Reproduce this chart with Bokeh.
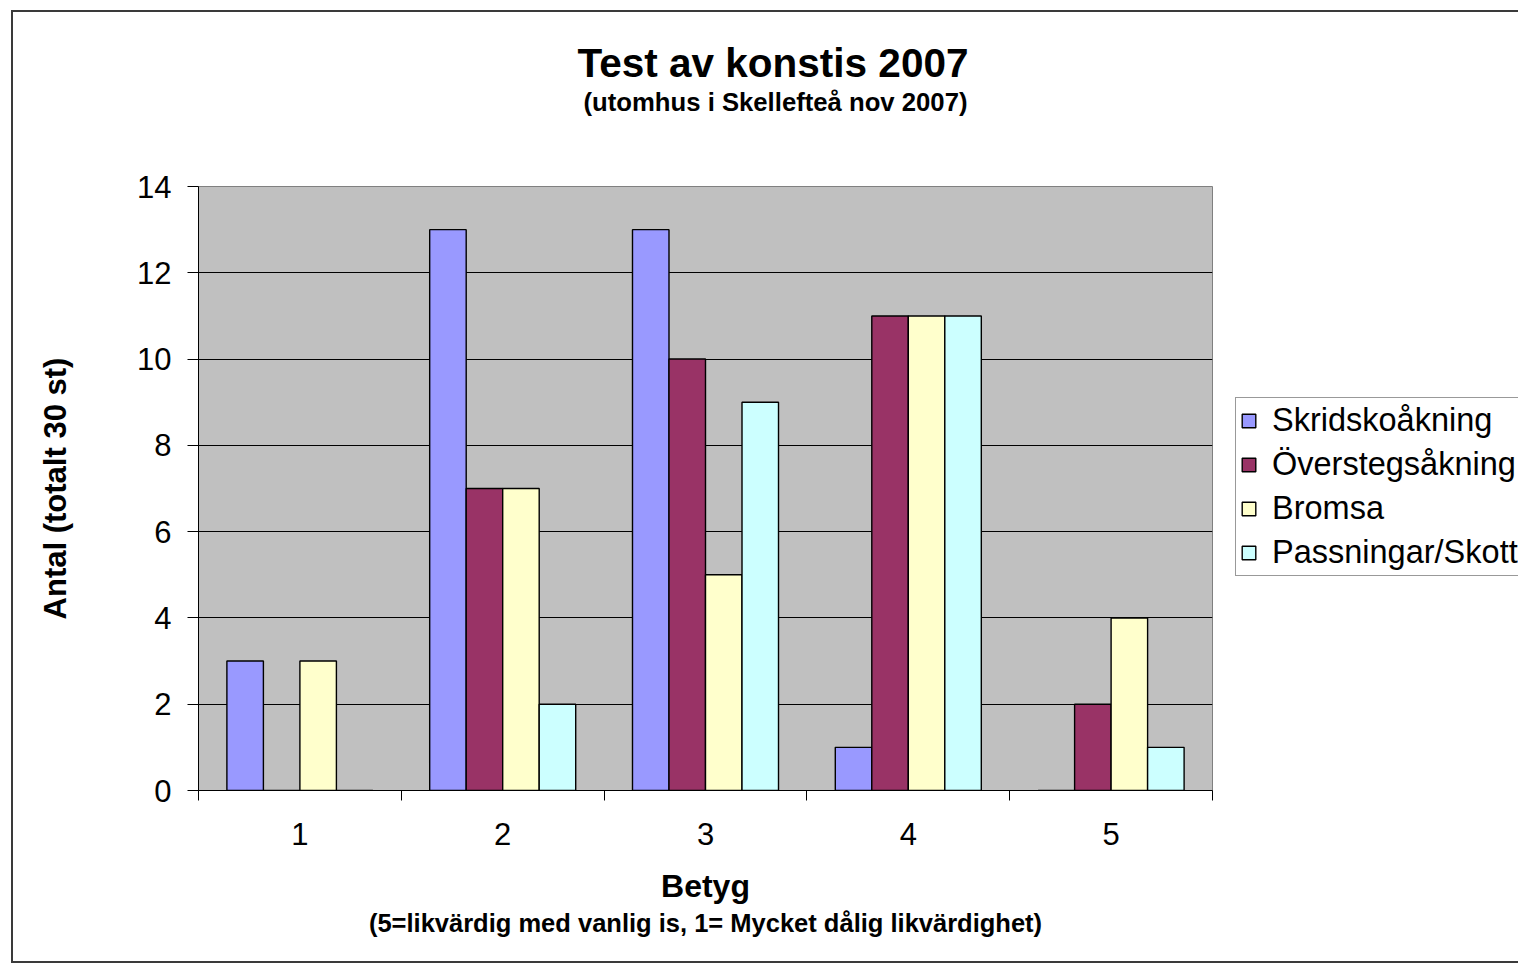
from bokeh.plotting import figure
from bokeh.layouts import row
from bokeh.models import Range1d, FixedTicker, Legend, LegendItem, ColumnDataSource, Title
from bokeh.embed import file_html
from bokeh.resources import INLINE

grades = [1, 2, 3, 4, 5]
grade_labels = ["1", "2", "3", "4", "5"]
skridsko = [3, 13, 13, 1, 0]
oversteg = [0, 7, 10, 11, 2]
bromsa = [3, 7, 5, 11, 4]
passningar = [0, 2, 9, 11, 1]
series_names = ["Skridskoåkning", "Överstegsåkning", "Bromsa", "Passningar/Skott"]
series_values = [skridsko, oversteg, bromsa, passningar]
series_colors = ["#9999FF", "#993366", "#FFFFCC", "#CCFFFF"]
y_ticks = [0, 2, 4, 6, 8, 10, 12, 14]

FONT = "Liberation Sans"

p = figure(width=1216, height=949, output_backend="svg", toolbar_location=None,
           x_range=Range1d(0.5, 5.5), y_range=Range1d(0, 14),
           min_border_left=185, min_border_right=17, min_border_top=174, min_border_bottom=171)
p.background_fill_color = "#C0C0C0"
p.border_fill_color = "white"
p.outline_line_color = "#808080"
p.outline_line_width = 1

bw = 0.18
offsets = [-1.5 * bw, -0.5 * bw, 0.5 * bw, 1.5 * bw]
sources = []
for name, vals, col, off in zip(series_names, series_values, series_colors, offsets):
    src = ColumnDataSource(dict(x=[g + off for g in grades], top=vals))
    sources.append(src)
    p.vbar(x="x", top="top", width=bw, bottom=0, source=src, fill_color=col,
           line_color="black", line_width=1.4)

# grid
p.xgrid.visible = False
p.ygrid.grid_line_color = "black"
p.ygrid.grid_line_width = 1
p.ygrid.ticker = FixedTicker(ticks=y_ticks)

# y axis
p.yaxis.ticker = FixedTicker(ticks=y_ticks)
p.yaxis.axis_line_color = "black"
p.yaxis.major_tick_line_color = "black"
p.yaxis.major_tick_out = 11
p.yaxis.major_tick_in = 0
p.yaxis.minor_tick_line_color = None
p.yaxis.major_label_text_font = FONT
p.yaxis.major_label_text_font_size = "31px"
p.yaxis.major_label_text_color = "black"
p.yaxis.major_label_standoff = 16
p.yaxis.axis_label = "Antal (totalt 30 st)"
p.yaxis.axis_label_text_font = FONT
p.yaxis.axis_label_text_font_size = "31px"
p.yaxis.axis_label_text_font_style = "bold"
p.yaxis.axis_label_text_color = "black"
p.yaxis.axis_label_standoff = 61

# x axis
p.xaxis.ticker = FixedTicker(ticks=grades, minor_ticks=[0.5, 1.5, 2.5, 3.5, 4.5, 5.5])
p.xaxis.major_label_overrides = {g: l for g, l in zip(grades, grade_labels)}
p.xaxis.axis_line_color = "black"
p.xaxis.major_tick_line_color = None
p.xaxis.major_tick_out = 0
p.xaxis.major_tick_in = 0
p.xaxis.minor_tick_line_color = "black"
p.xaxis.minor_tick_out = 10
p.xaxis.minor_tick_in = 0
p.xaxis.major_label_text_font = FONT
p.xaxis.major_label_text_font_size = "31px"
p.xaxis.major_label_text_color = "black"
p.xaxis.major_label_standoff = 22
p.xaxis.axis_label = "Betyg"
p.xaxis.axis_label_text_font = FONT
p.xaxis.axis_label_text_font_size = "32px"
p.xaxis.axis_label_text_font_style = "bold"
p.xaxis.axis_label_text_color = "black"
p.xaxis.axis_label_standoff = 20

# note below the x axis
p.add_layout(Title(text="(5=likvärdig med vanlig is, 1= Mycket dålig likvärdighet)",
                   align="center", text_font=FONT, text_font_size="25.5px",
                   text_font_style="bold", text_color="black", standoff=0), "below")

# titles: spacer (closest to the frame), subtitle, main title
p.add_layout(Title(text=" ", text_font_size="1px", standoff=68), "above")
p.add_layout(Title(text="(utomhus i Skellefteå nov 2007)", align="left", offset=385,
                   text_font=FONT, text_font_size="25.7px", text_font_style="bold",
                   text_color="black", standoff=0), "above")
p.add_layout(Title(text="Test av konstis 2007", align="left", offset=379,
                   text_font=FONT, text_font_size="40.5px", text_font_style="bold",
                   text_color="black", standoff=0), "above")

# legend panel (separate canvas to the right of the chart frame);
# its copies of the bars sit underneath the opaque legend box
pl = figure(width=289, height=949, output_backend="svg", toolbar_location=None,
            x_range=Range1d(0.28, 5.52), y_range=Range1d(-17.9, 31.2),
            x_axis_type=None, y_axis_type=None, min_border=0)
pl.outline_line_color = None
pl.background_fill_color = "white"
pl.border_fill_color = "white"
pl.xgrid.visible = False
pl.ygrid.visible = False
items = []
for name, col, src in zip(series_names, series_colors, sources):
    r = pl.vbar(x="x", top="top", width=bw, bottom=0, source=src, fill_color=col,
                line_color="black", line_width=1.4)
    items.append(LegendItem(label=name, renderers=[r], index=0))
legend = Legend(items=items, location=(6, 214), margin=0, padding=4,
                label_text_font=FONT, label_text_font_size="32.5px", label_text_color="black",
                label_height=36, spacing=7, glyph_width=17, glyph_height=17,
                label_standoff=15, border_line_color="#333333", border_line_width=1,
                background_fill_color="white", background_fill_alpha=1)
pl.add_layout(legend, "center")

layout = row(p, pl)
layout.styles = {"border-left": "2px solid #3a3a3a", "border-top": "2px solid #3a3a3a",
                 "border-bottom": "2px solid #3a3a3a", "margin-left": "11px", "margin-top": "10px"}

open("out.html", "w").write(file_html(layout, INLINE))
